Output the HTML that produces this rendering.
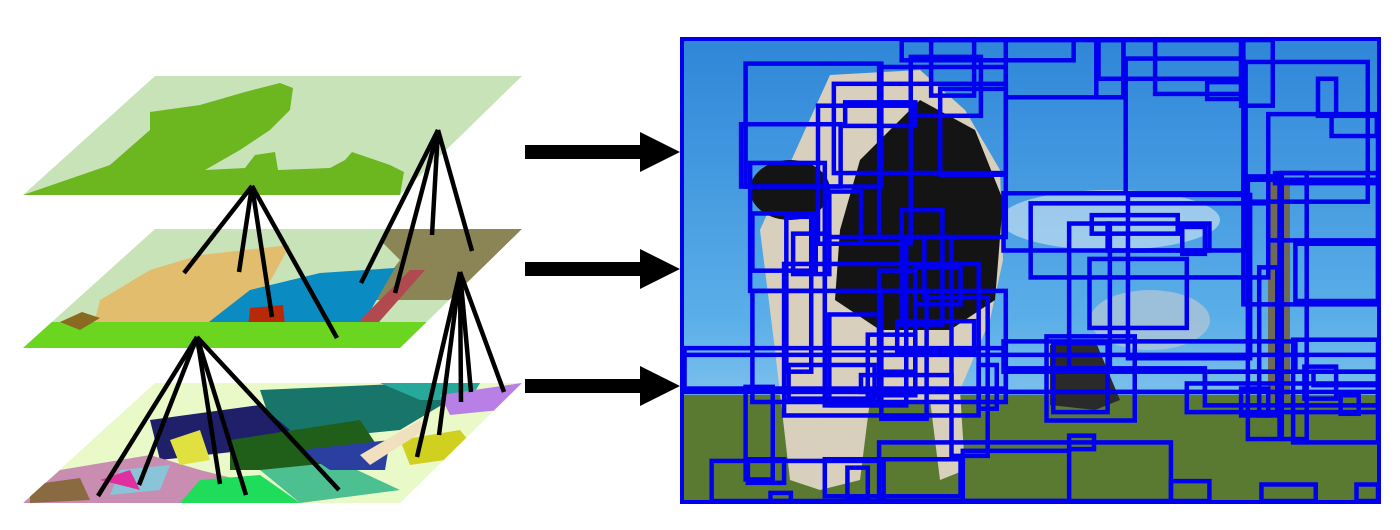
<!DOCTYPE html>
<html><head><meta charset="utf-8">
<style>
html,body{margin:0;padding:0;background:#fff;}
svg{display:block;}
</style></head>
<body>
<svg id="fig" width="1400" height="530" viewBox="0 0 1400 530" xmlns="http://www.w3.org/2000/svg">
<defs>
 <linearGradient id="sky" x1="0" y1="0" x2="0" y2="1">
  <stop offset="0" stop-color="#2f86d8"/>
  <stop offset="0.6" stop-color="#5aaee8"/>
  <stop offset="1" stop-color="#a8d8f2"/>
 </linearGradient>
 <clipPath id="c1"><polygon points="155,76 522,76 400,195 23,195"/></clipPath>
 <clipPath id="c2"><polygon points="155,229 522,229 400,348 23,348"/></clipPath>
 <clipPath id="c3"><polygon points="155,383 522,383 400,503 23,503"/></clipPath>
</defs>

<g clip-path="url(#c1)">
 <rect x="0" y="76" width="540" height="120" fill="#c9e3b9"/>
 <path d="M23,195 L110,165 L150,130 L150,112 L200,105 L245,92 L280,83 L293,88 L290,110 L270,130 L240,150 L205,170 L245,168 L255,155 L275,152 L278,170 L330,168 L345,160 L352,152 L390,165 L404,172 L400,195 Z" fill="#6cb61f"/>
</g>
<g clip-path="url(#c2)">
 <rect x="0" y="229" width="540" height="120" fill="#c9e3b9"/>
 <path d="M390,229 L522,229 L450,300 L370,300 L400,260 L380,240 Z" fill="#8b8556"/>
 <path d="M150,270 L200,255 L290,245 L260,300 L230,322 L120,330 L90,340 L100,300 Z" fill="#e2bd6d"/>
 <path d="M205,325 L250,290 L320,273 L395,268 L365,320 L350,330 L210,330 Z" fill="#0a8cc2"/>
 <path d="M250,308 L283,305 L285,325 L248,327 Z" fill="#b82a07"/>
 <path d="M360,320 L410,270 L425,270 L372,330 Z" fill="#b04a4f"/>
 <rect x="0" y="322" width="540" height="30" fill="#6ad61f"/>
 <path d="M60,322 L82,312 L100,318 L80,330 Z" fill="#8a6a20"/>
</g>
<g clip-path="url(#c3)">
 <rect x="0" y="383" width="540" height="120" fill="#eaf9c8"/>
 <path d="M260,390 L420,383 L450,400 L400,430 L300,440 L270,420 Z" fill="#18756a"/>
 <path d="M380,383 L480,383 L470,400 L420,400 Z" fill="#26a89a"/>
 <path d="M440,395 L522,383 L500,410 L450,415 Z" fill="#b880e6"/>
 <path d="M150,420 L260,405 L290,430 L250,450 L160,460 Z" fill="#1f1f6a"/>
 <path d="M230,440 L360,420 L380,450 L300,470 L230,470 Z" fill="#1f5f1a"/>
 <path d="M60,470 L150,455 L200,470 L240,480 L200,503 L23,503 Z" fill="#c88db0"/>
 <path d="M120,470 L170,465 L160,490 L110,495 Z" fill="#8ac4d8"/>
 <path d="M200,480 L260,475 L300,503 L180,503 Z" fill="#1fdc5a"/>
 <path d="M260,470 L340,462 L400,490 L300,503 Z" fill="#4cc090"/>
 <path d="M300,450 L390,440 L385,470 L330,470 Z" fill="#2a3fa0"/>
 <path d="M400,440 L460,430 L480,455 L410,465 Z" fill="#d0d020"/>
 <path d="M170,440 L200,430 L210,460 L180,465 Z" fill="#e0e040"/>
 <path d="M100,480 L130,470 L140,490 Z" fill="#e030a0"/>
 <path d="M30,485 L80,478 L90,500 L30,503 Z" fill="#8a6a40"/>
 <path d="M360,455 L420,420 L425,430 L370,465 Z" fill="#f0e0c0"/>
</g>

<g id="lines" stroke="#000" stroke-width="4.5" stroke-linecap="butt"></g>

<g fill="#000">
 <g><rect x="525" y="145" width="118" height="14"/><polygon points="640,132 680,152 640,172"/></g>
 <g><rect x="525" y="262" width="118" height="14"/><polygon points="640,249 680,269 640,289"/></g>
 <g><rect x="525" y="379" width="118" height="14"/><polygon points="640,366 680,386 640,406"/></g>
</g>

<g>
 <rect x="682" y="39" width="697" height="463" fill="url(#sky)"/>
 <ellipse cx="1110" cy="220" rx="110" ry="30" fill="#d6e8f4" opacity="0.6"/>
 <ellipse cx="1150" cy="320" rx="60" ry="30" fill="#b9c8d4" opacity="0.7"/>
 <rect x="682" y="395" width="697" height="107" fill="#5a7a32"/>
 <rect x="1268" y="180" width="22" height="220" fill="#6e6a55"/>
 <path d="M790,480 L775,350 L760,230 L805,130 L830,75 L920,70 L965,110 L1000,170 L1003,260 L990,320 L960,390 L965,470 L940,480 L930,400 L870,400 L860,480 L820,490 Z" fill="#d8d0bc"/>
 <path d="M860,160 L920,100 L975,130 L1003,200 L995,300 L950,330 L880,330 L835,300 L840,230 Z" fill="#141414"/>
 <ellipse cx="790" cy="190" rx="40" ry="30" fill="#141414"/>
 <path d="M1050,345 L1095,340 L1120,400 L1095,410 L1050,405 Z" fill="#2a2a2a"/>
 <path d="M682,39 L1379,39 L1379,502 L682,502 Z" fill="none" stroke="#0000ee" stroke-width="4"/>
 <g id="boxes" fill="none" stroke="#0000ee" stroke-width="4.5"></g>
</g>
</svg>
<script>
const lineSegs = [
 [252,186,184,273],[252,186,239,272],[252,186,272,317],[252,186,337,338],
 [438,130,361,283],[438,130,395,293],[438,130,432,235],[438,130,472,251],
 [197,337,98,496],[197,337,139,485],[197,337,220,484],[197,337,246,495],[197,337,339,490],
 [460,272,417,457],[460,272,439,435],[460,272,461,402],[460,272,471,392],[460,272,504,392]
];
const boxList = [
 [145,85,445,450],[135,265,355,450],[340,145,720,410],[305,210,510,620],[365,200,520,270],
 [510,65,665,240],[490,15,870,75],[555,15,650,180],[575,160,720,415],[720,15,980,185],
 [920,15,980,185],[925,15,1240,130],[1050,15,1245,175],[1240,15,1310,210],[1250,80,1520,495],
 [1410,130,1450,240],[1300,235,1545,610],[1255,420,1325,1200],[1330,410,1385,1200],
 [155,380,320,760],[160,530,300,700],[235,540,290,1000],[330,465,400,620],[320,600,500,1100],
 [445,760,545,1140],[415,890,520,1070],[490,520,580,860],[540,600,600,780],[230,680,660,1130],
 [160,760,720,1090],[10,930,720,1050],[0,950,1560,1060],[715,470,1250,640],[775,500,1300,720],
 [910,535,1100,590],[945,560,1170,640],[905,665,1120,870],[990,475,1260,960],[810,895,1005,1145],
 [825,915,945,1120],[715,910,1360,1000],[1120,1035,1560,1120],[1355,905,1560,1210],
 [1380,985,1450,1080],[1460,1070,1500,1125],[440,1210,1085,1400],[70,1265,450,1400],
 [320,1260,620,1370],[370,1285,415,1380],[145,1045,205,1320],[860,1190,915,1230],
 [1085,1325,1170,1400],[1285,1335,1405,1400],[1495,1335,1560,1400],[625,1235,860,1400],
 [1245,430,1560,800],[1315,410,1545,440],[985,70,1245,470],[600,780,680,1250],[200,1360,245,1400],
 [440,95,720,600],[1440,240,1540,300],[1360,620,1560,790],[1165,140,1240,190],
 [1280,690,1320,1130],[330,830,440,1100],[240,980,430,1080],[720,990,1160,1060],
 [1160,1000,1560,1100],[480,850,650,940],[660,980,700,1110],[1400,1000,1560,1040],
 [860,560,950,1000],[400,1010,600,1060],[1240,1050,1300,1130],[150,1260,230,1330],
 [440,700,520,1000],[520,690,620,800],[250,590,330,710],[1110,570,1160,650]
];
const NS = 'http://www.w3.org/2000/svg';
const bx = X => 680 + X / 2.21;
const by = Y => 35 + Y / 2.97;
const lg = document.getElementById('lines');
lineSegs.forEach(s => {
  const l = document.createElementNS(NS, 'line');
  l.setAttribute('x1', s[0]); l.setAttribute('y1', s[1]);
  l.setAttribute('x2', s[2]); l.setAttribute('y2', s[3]);
  
  
  lg.appendChild(l);
});
const bg = document.getElementById('boxes');
boxList.forEach(b => {
  const x1 = Math.max(683, bx(b[0])), x2 = Math.min(1378, bx(b[2]));
  const y1 = Math.max(40, by(b[1])), y2 = Math.min(501, by(b[3]));
  const r = document.createElementNS(NS, 'rect');
  r.setAttribute('x', x1); r.setAttribute('y', y1);
  r.setAttribute('width', Math.max(1, x2 - x1)); r.setAttribute('height', Math.max(1, y2 - y1));
  
  
  bg.appendChild(r);
});
</script>
</body></html>
